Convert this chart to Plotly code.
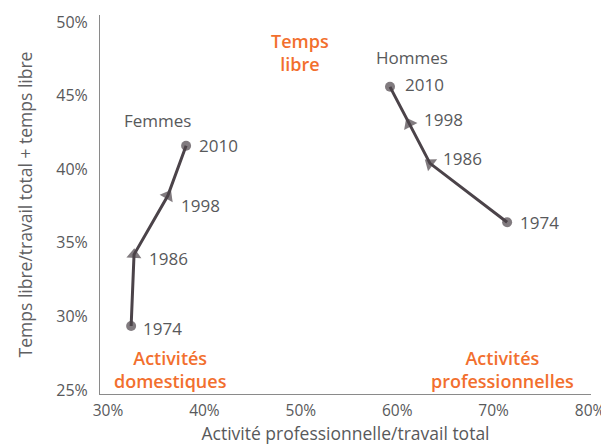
import numpy as np
import plotly.graph_objects as go

years = ["1974", "1986", "1998", "2010"]
femmes_x = [32.4, 32.7, 36.2, 38.1]
femmes_y = [29.35, 34.2, 38.2, 41.6]
hommes_x = [71.4, 63.4, 61.25, 59.25]
hommes_y = [36.4, 40.4, 43.1, 45.6]
x_ticks = [30, 40, 50, 60, 70, 80]
y_ticks = [25, 30, 35, 40, 45, 50]

LINE = "#4b4349"
TXT = "#58595b"
ORANGE = "#f26f2e"
FONT = "Open Sans"

# page body has an 8px margin, so the figure is 8px smaller
W, H = 601, 438
ML, MR, MT, MB = 92, 18, 7, 52
XR = [29.17, 80.1]
YR = [24.73, 50.48]
px_per_x = (W - ML - MR) / (XR[1] - XR[0])
px_per_y = (H - MT - MB) / (YR[1] - YR[0])

fig = go.Figure()
symbols = ["circle", "triangle-up", "triangle-up", "circle"]
sizes = [10, 13, 13, 10]
for xs, ys in [(femmes_x, femmes_y), (hommes_x, hommes_y)]:
    xa, ya = np.array(xs), np.array(ys)
    dx = np.diff(xa) * px_per_x
    dy = np.diff(ya) * px_per_y
    ang = np.degrees(np.arctan2(dx, dy))
    angles = [0.0] + [float(a) for a in ang]
    fig.add_trace(go.Scatter(
        x=xs, y=ys, mode="lines+markers",
        line=dict(color=LINE, width=3),
        marker=dict(symbol=symbols, size=sizes, color=LINE, angle=angles,
                    line=dict(width=0)),
        hoverinfo="skip", showlegend=False))

# year labels
f_shift = [(10, -2), (13, -4), (11, -10), (11, 0)]
h_shift = [(11, 0), (11, 5), (13, 4), (13, 2)]
for xs, ys, shifts in [(femmes_x, femmes_y, f_shift), (hommes_x, hommes_y, h_shift)]:
    for x, y, yr, (dx, dy) in zip(xs, ys, years, shifts):
        fig.add_annotation(x=x, y=y, text=yr, showarrow=False, xanchor="left",
                           xshift=dx, yshift=dy,
                           font=dict(family=FONT, size=17, color=TXT))

fig.add_annotation(x=35.1, y=43.3, text="Femmes", showarrow=False,
                   font=dict(family=FONT, size=17, color=TXT))
fig.add_annotation(x=61.5, y=47.6, text="Hommes", showarrow=False,
                   font=dict(family=FONT, size=17, color=TXT))
ofont = dict(family=FONT, size=18, color=ORANGE, weight=600)
fig.add_annotation(x=49.9, y=47.95, text="Temps<br>libre", showarrow=False, font=ofont)
fig.add_annotation(x=36.5, y=26.4, text="Activités<br>domestiques", showarrow=False, font=ofont)
fig.add_annotation(x=70.9, y=26.4, text="Activités<br>professionnelles", showarrow=False, font=ofont)

fig.add_annotation(xref="paper", yref="paper", x=-0.153, y=0.5,
                   xanchor="center", yanchor="middle",
                   text="Temps libre/travail total + temps libre", textangle=-90,
                   showarrow=False, font=dict(family=FONT, size=17.5, color="#606062"))

fig.update_layout(
    width=W, height=H,
    margin=dict(l=ML, r=MR, t=MT, b=MB),
    paper_bgcolor="white", plot_bgcolor="white",
    font=dict(family=FONT, color=TXT),
    xaxis=dict(range=XR, tickvals=x_ticks, automargin=False,
               ticktext=[f"{v}%" for v in x_ticks],
               showgrid=False, zeroline=False, showline=True, linecolor="#8a8a8a",
               linewidth=1, ticks="", tickfont=dict(size=15.5, color=TXT),
               ticklabelstandoff=2,
               title=dict(text="Activité professionnelle/travail total",
                          font=dict(size=17.5, color=TXT), standoff=8)),
    yaxis=dict(range=YR, tickvals=y_ticks, automargin=False,
               ticktext=[f"{v}%" for v in y_ticks],
               showgrid=False, zeroline=False, showline=True, linecolor="#8a8a8a",
               linewidth=1, ticks="", tickfont=dict(size=16, color=TXT),
               ticklabelstandoff=8),
)

fig.write_html("out.html")
